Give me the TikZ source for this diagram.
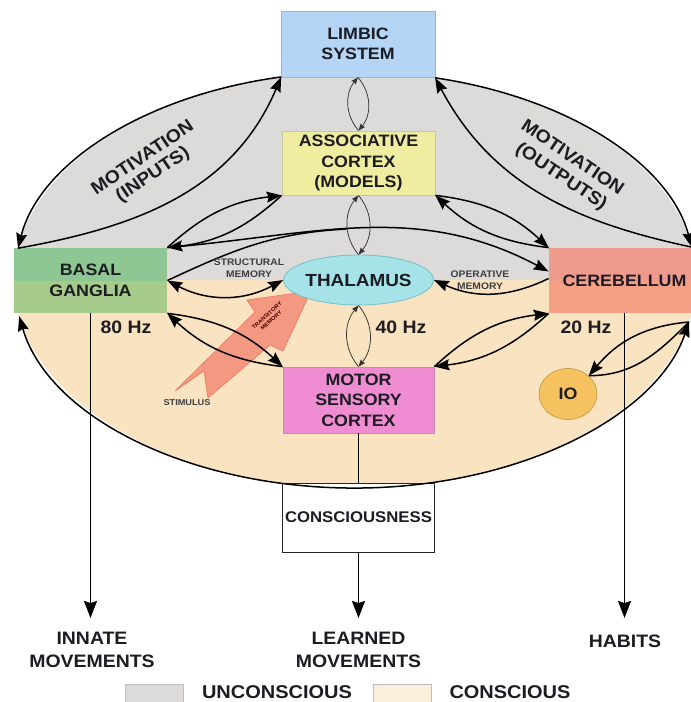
\documentclass[tikz,border=0pt]{standalone}
\usepackage{fontspec}
\setmainfont{Liberation Sans}[FakeStretch=1.08]
\usetikzlibrary{arrows.meta,shapes.geometric,calc}
\definecolor{unc}{HTML}{DCDBD9}
\definecolor{con}{HTML}{FAE3C0}
\definecolor{conl}{HTML}{FBF0DC}
\definecolor{legb}{HTML}{BDBDBD}
\definecolor{limb}{HTML}{B4D5F6}
\definecolor{limbb}{HTML}{9DB6CB}
\definecolor{assoc}{HTML}{EEEDA0}
\definecolor{assocb}{HTML}{C9C79C}
\definecolor{thal}{HTML}{A6E3E8}
\definecolor{thalb}{HTML}{74C0C8}
\definecolor{bgt}{HTML}{8FC794}
\definecolor{bgb}{HTML}{A7CB8A}
\definecolor{cbt}{HTML}{EE9B8E}
\definecolor{cbb}{HTML}{F5A084}
\definecolor{mot}{HTML}{F08DD2}
\definecolor{motb}{HTML}{C68BB0}
\definecolor{io}{HTML}{F6C260}
\definecolor{iob}{HTML}{C9A052}
\definecolor{stim}{HTML}{F4917B}
\definecolor{stimb}{HTML}{EE7460}
\definecolor{txt}{HTML}{1C1C22}
\begin{document}
\begin{tikzpicture}[x=1pt,y=1pt,
  boxfont/.style={font=\fontsize{16.5}{20.5}\selectfont\bfseries},
  region/.style={draw, line width=0.8pt, align=center, inner sep=0pt, text=txt, boxfont},
  arrbig/.style={line width=1.5pt, -{Stealth[length=15pt,width=11pt,inset=2pt]}},
  arrboth/.style={line width=1.5pt, {Stealth[length=15pt,width=11pt,inset=2pt]}-{Stealth[length=15pt,width=11pt,inset=2pt]}},
  arrthin/.style={line width=0.75pt, draw=black!80, -{Stealth[length=7pt,width=5.5pt,inset=1pt]}},
  lnthick/.style={line width=1.5pt},
  arrdown/.style={line width=1.4pt, -{Stealth[length=17pt,width=13pt,inset=2pt]}},
  lbl/.style={align=center, text=txt, boxfont},
  bigtxt/.style={align=center, text=txt, font=\fontsize{18}{23}\selectfont\bfseries},
  smalltxt/.style={align=center, text=txt!85, font=\fontsize{9.5}{12.5}\selectfont\bfseries},
]
\useasboundingbox (0,0) rectangle (691,-702);
\coordinate (O) at (355,-280);
% background regions
\begin{scope}
\clip (0,-280) rectangle (700,0);
\fill[unc] (O) ellipse [x radius=341pt, y radius=208pt];
\end{scope}
\begin{scope}
\clip (0,-280) rectangle (700,-702);
\fill[con] (O) ellipse [x radius=341pt, y radius=208pt];
\end{scope}
\coordinate (eLW) at ($(O)+(102.5:341pt and 208pt)$);
\coordinate (eLE) at ($(O)+(76.4:341pt and 208pt)$);
\coordinate (eBG) at ($(O)+(171.2:341pt and 208pt)$);
\coordinate (eCB) at ($(O)+(9.1:341pt and 208pt)$);
\coordinate (eBL) at ($(O)+(190:341pt and 208pt)$);
\coordinate (eBR) at ($(O)+(348.35:341pt and 208pt)$);

% stimulus arrow
\fill[stim, draw=stimb, line width=0.6pt, fill opacity=0.9]
  (175,-391) -- (204,-371) -- (208,-398) -- (270,-345) -- (283,-351)
  -- (311,-291) -- (247,-300) -- (255,-312) -- cycle;
\node[rotate=42, align=center, text=black!70!red, font=\fontsize{5.5}{6.5}\selectfont\bfseries] (tm) at (269,-318) {TRANSITORY\\MEMORY};
\node[smalltxt, font=\fontsize{8.5}{10}\selectfont\bfseries] (stm) at (187,-403) {STIMULUS};

% nodes
\node[region, draw=limbb, fill=limb, minimum width=154pt, minimum height=66pt] (L) at (358,-44) {LIMBIC\\SYSTEM};
\node[region, draw=assocb, fill=assoc, minimum width=153pt, minimum height=64pt] (A) at (358.5,-163) {ASSOCIATIVE\\CORTEX\\(MODELS)};
\node[region, ellipse, draw=thalb, fill=thal, minimum width=117pt, minimum height=50pt, font=\fontsize{17.5}{20}\selectfont\bfseries] (T) at (358.5,-280) {THALAMUS};
\node[region, draw=motb, fill=mot, minimum width=151pt, minimum height=66pt] (M) at (358.5,-400) {MOTOR\\SENSORY\\CORTEX};
\node[region, draw=black!85, line width=1pt, fill=white, minimum width=152pt, minimum height=69pt, font=\fontsize{15.5}{20}\selectfont\bfseries] (C) at (358.5,-517.5) {CONSCIOUSNESS};
\node[region, draw=none, minimum width=153pt, minimum height=65pt, path picture={
  \fill[bgt] (path picture bounding box.north west) rectangle (path picture bounding box.east);
  \fill[bgb] (path picture bounding box.west) rectangle (path picture bounding box.south east);}] (BG) at (90.5,-280.5) {BASAL\\GANGLIA};
\node[region, draw=none, minimum width=151pt, minimum height=65pt, path picture={
  \fill[cbt] (path picture bounding box.north west) rectangle (path picture bounding box.east);
  \fill[cbb] (path picture bounding box.west) rectangle (path picture bounding box.south east);}] (CB) at (624.5,-280.5) {CEREBELLUM};
\node[region, ellipse, draw=iob, fill=io, minimum width=58pt, minimum height=51pt] (IO) at (568,-394) {IO};

% outer motivation arcs
\draw[arrbig] (eLW) arc[start angle=102.5, end angle=171.2, x radius=341pt, y radius=208pt];
\draw[arrbig] (eBG) to[out=10, in=-113] (eLW);
\draw[arrbig] (eLE) arc[start angle=76.4, end angle=9.1, x radius=341pt, y radius=208pt];
\draw[arrbig] (eCB) to[out=168, in=-62] (eLE);
\draw[arrboth] (eBL) arc[start angle=190, end angle=348.35, x radius=341pt, y radius=208pt];

% thin vertical lenses
\draw[arrthin] (A.north) to[bend left=40] (L.south);
\draw[arrthin] (L.south) to[bend left=40] (A.north);
\draw[arrthin] (T.north) to[bend left=40] (A.south);
\draw[arrthin] (A.south) to[bend left=40] (T.north);
\draw[arrthin] (M.north) to[bend left=40] (T.south);
\draw[arrthin] (T.south) to[bend left=40] (M.north);

% thick lenses
\draw[arrbig] (BG.north east) to[bend left=18] (A.south west);
\draw[arrbig] (A.south west) to[bend left=18] (BG.north east);
\draw[arrbig] (CB.north west) to[bend left=18] (A.south east);
\draw[arrbig] (A.south east) to[bend left=18] (CB.north west);
\draw[arrbig] (BG.south east) to[bend left=18] (M.north west);
\draw[arrbig] (M.north west) to[bend left=18] (BG.south east);
\draw[arrbig] (CB.south west) to[bend left=18] (M.north east);
\draw[arrbig] (M.north east) to[bend left=18] (CB.south west);

% memory connectors
\coordinate (cbin) at ([yshift=9pt]CB.west);
\draw[arrbig] (BG.north east) to[out=5, in=152] coordinate[pos=0.45] (mg) (cbin);
\draw[lnthick] (BG.east) to[out=25, in=183] (mg);
\draw[arrboth] (BG.east) to[bend right=28] (T.west);
\draw[arrbig] ([yshift=2pt]CB.west) to[bend left=25] (T.east);

% IO
\draw[arrbig] (eBR) to[out=185, in=50] (IO.north east);
\draw[lnthick] (IO.north east) to[out=0, in=225] (eBR);

% outputs
\coordinate (tipI) at (90.5,-618);
\coordinate (tipL) at (358.5,-618);
\coordinate (tipH) at (624.5,-618);
\draw[arrdown] (BG.south) -- (tipI);
\draw[arrdown] (CB.south) -- (tipH);
\draw[lnthick] (M.south) -- (C.north);
\draw[arrdown] (C.south) -- (tipL);

% labels
\node[bigtxt, rotate=34] (mi1) at (142,-157) {MOTIVATION};
\node[bigtxt, rotate=34] (mi2) at (153,-175) {(INPUTS)};
\node[bigtxt, rotate=-34] (mo1) at (573,-157) {MOTIVATION};
\node[bigtxt, rotate=-34] (mo2) at (561,-177) {(OUTPUTS)};
\node[smalltxt] (sm) at (249,-268) {STRUCTURAL\\MEMORY};
\node[smalltxt] (om) at (480,-280) {OPERATIVE\\MEMORY};
\node[bigtxt] (h80) at (126,-327) {80 Hz};
\node[bigtxt] (h40) at (401,-327) {40 Hz};
\node[bigtxt] (h20) at (586,-327) {20 Hz};
\node[bigtxt] (inn) at (92,-650) {INNATE\\MOVEMENTS};
\node[bigtxt] (lrn) at (358.5,-650) {LEARNED\\MOVEMENTS};
\node[bigtxt] (hab) at (625,-641) {HABITS};

% legend
\node[draw=legb, fill=unc, line width=0.8pt, minimum width=58pt, minimum height=22pt, inner sep=0pt] (lg1) at (154,-695) {};
\node[bigtxt, font=\fontsize{18.5}{20}\selectfont\bfseries] (lt1) at (277,-692) {UNCONSCIOUS};
\node[draw=legb, fill=conl, line width=0.8pt, minimum width=58pt, minimum height=22pt, inner sep=0pt] (lg2) at (402,-695) {};
\node[bigtxt, font=\fontsize{18.5}{20}\selectfont\bfseries] (lt2) at (510,-692) {CONSCIOUS};
\end{tikzpicture}
\end{document}
